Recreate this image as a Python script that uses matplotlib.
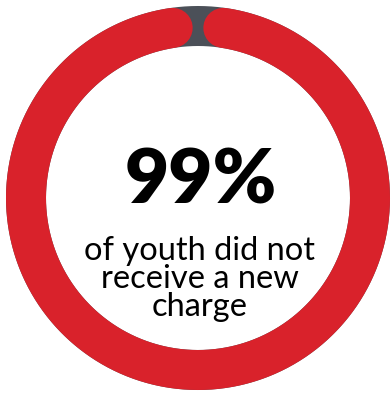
import numpy as np
import matplotlib
matplotlib.use("Agg")
import matplotlib.pyplot as plt

shares = [99, 1]
labels = ["did not receive a new charge", "received a new charge"]
colors = ["#d9222b", "#4b5058"]
big_label = "99%"
caption_lines = ["of youth did not", "receive a new", "charge"]

W, H, DPI = 392, 393, 100
fig = plt.figure(figsize=(W / DPI, H / DPI), dpi=DPI)
ax = fig.add_axes([0, 0, 1, 1])
ax.set_xlim(0, W)
ax.set_ylim(H, 0)
ax.axis("off")

cx, cy = 198, 198
r_mid = 172
ring_px = 40
lw = ring_px * 72 / DPI

# background (gray) full ring
t = np.linspace(0, 2 * np.pi, 721)
ax.plot(cx + r_mid * np.cos(t), cy + r_mid * np.sin(t), color=colors[1],
        lw=lw, solid_capstyle="butt")

# red arc: 99% share, round caps inset so they stay within the share
total = sum(shares)
gap = 2 * np.pi * shares[1] / total
cap = (ring_px / 2) / r_mid
top = -np.pi / 2  # top in inverted-y pixel coords
start = top + gap / 2 + cap
end = top + 2 * np.pi - gap / 2 - cap
ta = np.linspace(start, end, 800)
ax.plot(cx + r_mid * np.cos(ta), cy + r_mid * np.sin(ta), color=colors[0],
        lw=lw, solid_capstyle="round")

ax.text(201, 203, big_label, ha="center", va="baseline", fontsize=55,
        fontweight="heavy", family=["Lato", "DejaVu Sans"], color="black")

baselines = [260, 288, 316]
for line, b in zip(caption_lines, baselines):
    ax.text(200, b, line, ha="center", va="baseline", fontsize=23.5,
            fontweight="normal", family=["Lato", "DejaVu Sans"], color="black")

fig.savefig("out.png", dpi=DPI, facecolor="white")
